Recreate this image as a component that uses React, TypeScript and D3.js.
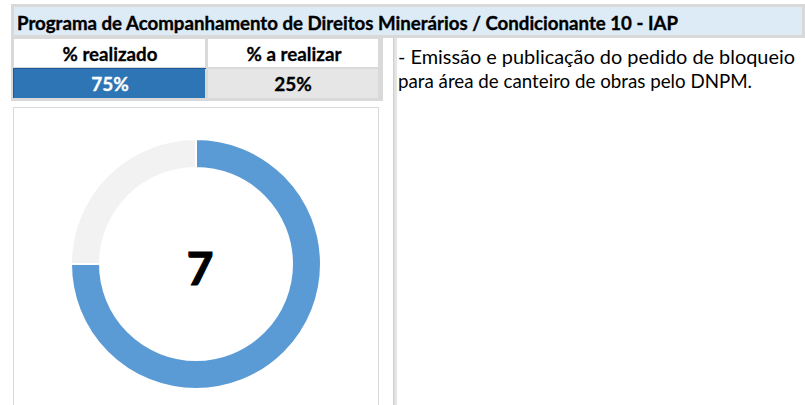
import React from "react";
import * as d3 from "d3";

const title = "Programa de Acompanhamento de Direitos Minerários / Condicionante 10 - IAP";
const headers = ["% realizado", "% a realizar"];
const categories = ["realizado", "a realizar"];
const values = [75, 25];
const centerLabel = "7";
const notes = [
  "- Emissão e publicação do pedido de bloqueio",
  "para área de canteiro de obras pelo DNPM.",
];

const W = 805;
const H = 405;
const FONT = "Lato, 'Open Sans', sans-serif";
const GRID = "#D9D9D9";

export default function App() {
  const pie = d3.pie<number>().sort(null).value((d) => d);
  const arcs = pie(values);
  const arc = d3.arc<d3.PieArcDatum<number>>().innerRadius(96).outerRadius(125);
  const colors = d3.scaleOrdinal<string, string>().domain(categories).range(["#5B9BD5", "#F2F2F2"]);
  const total = d3.sum(values);
  const fmt = (v: number) => d3.format(".0%")(v / total);

  const cx = 196;
  const cy = 264;

  return (
    <svg
      width={W}
      height={H}
      style={{ position: "absolute", left: 0, top: 0, background: "#fff" }}
      fontFamily={FONT}
    >
      <rect x={0} y={0} width={W} height={H} fill="#fff" />
      {/* title band */}
      <rect x={11} y={4} width={W - 11} height={34} fill={GRID} />
      <rect x={14} y={7} width={788} height={28} fill="#DDEBF7" />
      <text x={17} y={30} fontSize={18.5} fontWeight={700} fill="#000" stroke="#000" strokeWidth={0.35} textLength={661} lengthAdjust="spacingAndGlyphs">
        {title}
      </text>

      {/* table */}
      <rect x={11} y={38} width={372} height={63} fill={GRID} />
      <rect x={14} y={39} width={191} height={28} fill="#fff" />
      <rect x={208} y={39} width={170} height={28} fill="#fff" />
      <rect x={13} y={68} width={192} height={30} fill="#2E75B6" />
      <rect x={13} y={68} width={193} height={1} fill="#1F5A96" />
      <rect x={13} y={68} width={1} height={30} fill="#1F5A96" />
      <rect x={208} y={69} width={170} height={29} fill="#E6E6E6" />
      <text x={110} y={61} fontSize={19} fontWeight={700} textAnchor="middle" fill="#000" stroke="#000" strokeWidth={0.3} textLength={95} lengthAdjust="spacingAndGlyphs">
        {headers[0]}
      </text>
      <text x={294} y={61} fontSize={19} fontWeight={700} textAnchor="middle" fill="#000" stroke="#000" strokeWidth={0.3} textLength={95} lengthAdjust="spacingAndGlyphs">
        {headers[1]}
      </text>
      <text x={110} y={91} fontSize={19} fontWeight={700} textAnchor="middle" fill="#fff" stroke="#fff" strokeWidth={0.3}>
        {fmt(values[0])}
      </text>
      <text x={293} y={91} fontSize={19} fontWeight={700} textAnchor="middle" fill="#000" stroke="#000" strokeWidth={0.3}>
        {fmt(values[1])}
      </text>

      {/* separator column */}
      <rect x={393} y={38} width={4} height={H - 38} fill="#E4E4E4" />
      <rect x={393} y={38} width={1.2} height={H - 38} fill="#CFCFCF" />

      {/* notes */}
      <text x={398} y={64} fontSize={20} fill="#000" textLength={397} lengthAdjust="spacingAndGlyphs">
        {notes[0]}
      </text>
      <text x={398} y={88} fontSize={20} fill="#000" textLength={354} lengthAdjust="spacingAndGlyphs">
        {notes[1]}
      </text>

      {/* chart frame */}
      <rect x={13.5} y={107.5} width={365} height={400} fill="#fff" stroke={GRID} strokeWidth={1} />

      <g transform={`translate(${cx},${cy})`}>
        {arcs.map((a, i) => (
          <path key={i} d={arc(a) || ""} fill={colors(categories[i])} stroke="#fff" strokeWidth={2} />
        ))}
        <text x={4} y={21} fontSize={46} fontWeight={700} textAnchor="middle" fill="#000" stroke="#000" strokeWidth={1.2}>
          {centerLabel}
        </text>
      </g>
    </svg>
  );
}
